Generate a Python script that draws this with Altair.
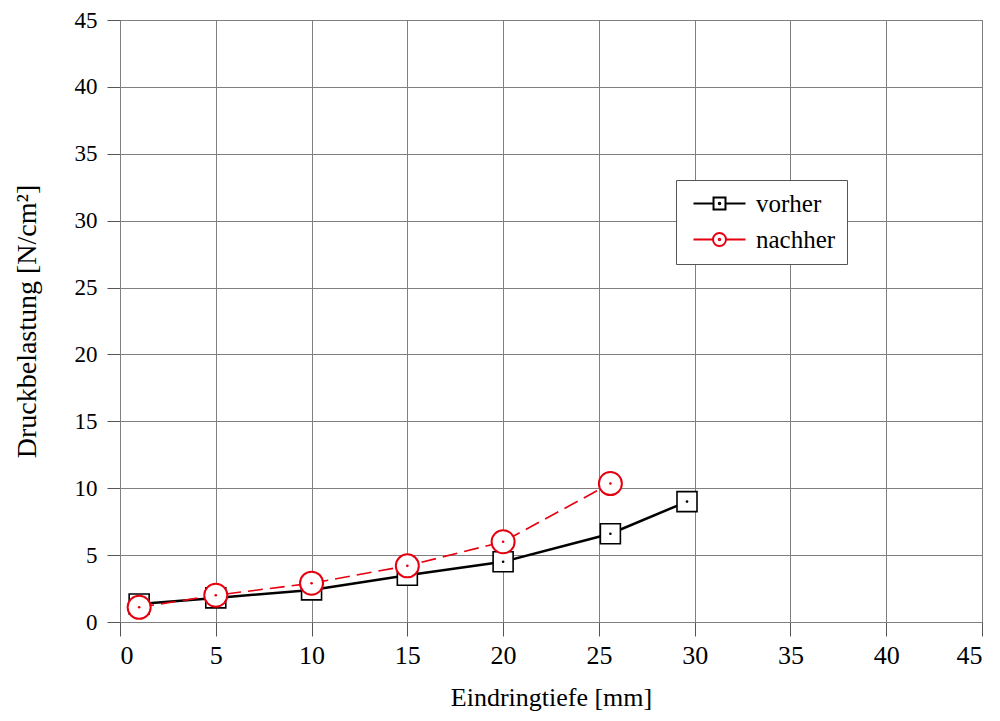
import altair as alt
import pandas as pd

x_vorher = [1, 5, 10, 15, 20, 25.6, 29.6]
y_vorher = [1.35, 1.8, 2.4, 3.5, 4.5, 6.6, 9.0]
x_nachher = [1, 5, 10, 15, 20, 25.6]
y_nachher = [1.1, 2.0, 2.9, 4.2, 6.0, 10.35]
series = ["vorher", "nachher"]
colors = ["#000000", "#e6000f"]
ticks = list(range(0, 46, 5))

df_v = pd.DataFrame({"x": x_vorher, "y": y_vorher, "series": "vorher"})
df_n = pd.DataFrame({"x": x_nachher, "y": y_nachher, "series": "nachher"})
df_all = pd.concat([df_v, df_n], ignore_index=True)

FONT = "Liberation Serif"

X = alt.X("x:Q", scale=alt.Scale(domain=[0, 45], nice=False),
          axis=alt.Axis(values=ticks, title="Eindringtiefe [mm]", tickSize=14,
                        labelPadding=6, labelFontSize=26, titlePadding=16,
                        titleFontSize=26))
Y = alt.Y("y:Q", scale=alt.Scale(domain=[0, 45], nice=False),
          axis=alt.Axis(values=ticks, title="Druckbelastung [N/cm²]", tickSize=13,
                        labelPadding=10, labelFontSize=23, titlePadding=33,
                        titleFontSize=28))

line_v = alt.Chart(df_v).mark_line(color=colors[0], strokeWidth=2.5).encode(x=X, y=Y)
sq_v = alt.Chart(df_v).mark_point(shape="square", size=400, filled=True, fill="white",
                                  stroke=colors[0], strokeWidth=1.6, opacity=1).encode(x=X, y=Y)
dot_v = alt.Chart(df_v).mark_point(shape="circle", size=7, filled=True,
                                   color=colors[0], opacity=1).encode(x=X, y=Y)
line_n = alt.Chart(df_n).mark_line(color=colors[1], strokeWidth=1.6,
                                   strokeDash=[15, 7]).encode(x=X, y=Y)
ci_n = alt.Chart(df_n).mark_point(shape="circle", size=530, filled=True, fill="white",
                                  stroke=colors[1], strokeWidth=2, opacity=1).encode(x=X, y=Y)
dot_n = alt.Chart(df_n).mark_point(shape="circle", size=7, filled=True,
                                   color=colors[1], opacity=1).encode(x=X, y=Y)

dot = "M-0.12,0A0.12,0.12 0 1,0 0.12,0A0.12,0.12 0 1,0 -0.12,0Z"
p_square = "M-4,0H-0.92M0.92,0H4M-0.92,-0.92H0.92V0.92H-0.92Z" + dot
p_circle = "M-4,0H-1M1,0H4M-1,0A1,1 0 1,0 1,0A1,1 0 1,0 -1,0Z" + dot

leg = alt.Legend(title=None, orient="none", legendX=556, legendY=160,
                 strokeColor="#555555", fillColor="white", padding=11,
                 labelFont=FONT, labelFontSize=25, labelColor="black",
                 symbolSize=169, symbolOffset=20, labelOffset=24,
                 symbolStrokeWidth=2, symbolFillColor="transparent",
                 rowPadding=10)

legend_layer = alt.Chart(df_all).transform_filter("false").mark_point(
    filled=False, strokeWidth=2, opacity=1).encode(
    x=X, y=Y,
    stroke=alt.Stroke("series:N", scale=alt.Scale(domain=series, range=colors), legend=leg),
    shape=alt.Shape("series:N", scale=alt.Scale(domain=series, range=[p_square, p_circle]),
                    legend=leg),
)

chart = alt.layer(line_v, sq_v, dot_v, line_n, ci_n, dot_n, legend_layer).properties(
    width=862, height=602,
    autosize=alt.AutoSizeParams(type="none"),
    padding={"left": 112, "top": 12, "right": 10, "bottom": 91},
    background="white",
).configure_view(
    stroke="#808080", strokeWidth=1
).configure_axis(
    grid=True, gridColor="#808080", gridWidth=1, gridOpacity=1,
    domainColor="#808080", tickColor="#555555", tickWidth=1,
    labelFont=FONT, labelColor="black",
    titleFont=FONT, titleFontWeight="normal", titleColor="black",
)

chart.save("out.html", embed_options={"renderer": "svg", "actions": False})
